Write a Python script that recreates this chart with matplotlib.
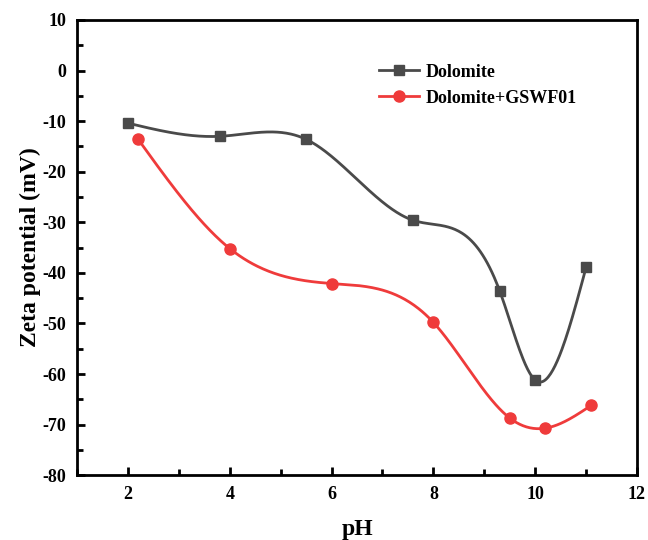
import numpy as np
import matplotlib.pyplot as plt
from matplotlib.ticker import MultipleLocator

plt.rcParams['font.family'] = ['Liberation Serif', 'DejaVu Serif']
plt.rcParams['font.weight'] = 'bold'
plt.rcParams['axes.unicode_minus'] = False

ph_dol = [2.0, 3.8, 5.5, 7.6, 9.3, 10.0, 11.0]
zeta_dol = [-10.4, -13.0, -13.6, -29.6, -43.5, -61.2, -38.9]

ph_gs = [2.2, 4.0, 6.0, 8.0, 9.5, 10.2, 11.1]
zeta_gs = [-13.6, -35.2, -42.1, -49.8, -68.7, -70.7, -66.2]


def natural_spline(x, y, n=400):
    # natural cubic spline through the points
    x = np.asarray(x, float)
    y = np.asarray(y, float)
    k = len(x)
    h = np.diff(x)
    A = np.zeros((k, k))
    b = np.zeros(k)
    A[0, 0] = A[-1, -1] = 1
    for i in range(1, k - 1):
        A[i, i - 1] = h[i - 1]
        A[i, i] = 2 * (h[i - 1] + h[i])
        A[i, i + 1] = h[i]
        b[i] = 6 * ((y[i + 1] - y[i]) / h[i] - (y[i] - y[i - 1]) / h[i - 1])
    M = np.linalg.solve(A, b)
    xs = np.linspace(x[0], x[-1], n)
    idx = np.clip(np.searchsorted(x, xs) - 1, 0, k - 2)
    x0, x1 = x[idx], x[idx + 1]
    hi = h[idx]
    ys = (M[idx] * (x1 - xs) ** 3 / (6 * hi) + M[idx + 1] * (xs - x0) ** 3 / (6 * hi)
          + (y[idx] / hi - M[idx] * hi / 6) * (x1 - xs)
          + (y[idx + 1] / hi - M[idx + 1] * hi / 6) * (xs - x0))
    return xs, ys


fig = plt.figure(figsize=(6.48, 5.4), dpi=100)
ax = fig.add_axes([0.119, 0.12, 0.864, 0.843])

gray = '#4a4a4a'
red = '#ef3b3b'

xs, ys = natural_spline(ph_dol, zeta_dol)
ax.plot(xs, ys, color=gray, lw=2)
ax.plot(ph_dol, zeta_dol, 's', color=gray, ms=7)
ax.plot([], [], '-s', color=gray, lw=2, ms=7, label='Dolomite')

xs, ys = natural_spline(ph_gs, zeta_gs)
ax.plot(xs, ys, color=red, lw=2)
ax.plot(ph_gs, zeta_gs, 'o', color=red, ms=8)
ax.plot([], [], '-o', color=red, lw=2, ms=8, label='Dolomite+GSWF01')

ax.set_xlim(1, 12)
ax.set_ylim(-80, 10)
ax.xaxis.set_major_locator(MultipleLocator(2))
ax.xaxis.set_minor_locator(MultipleLocator(1))
ax.yaxis.set_major_locator(MultipleLocator(10))
ax.yaxis.set_minor_locator(MultipleLocator(5))
ax.tick_params(which='both', direction='in', width=2, labelsize=13, pad=8)
ax.tick_params(which='major', length=6)
ax.tick_params(which='minor', length=4)
for s in ax.spines.values():
    s.set_linewidth(2)

ax.set_xlabel('pH', fontsize=17, fontweight='bold', labelpad=11)
ax.set_ylabel('Zeta potential (mV)', fontsize=17, fontweight='bold', labelpad=1)

ax.legend(loc='upper left', bbox_to_anchor=(0.51, 0.94), frameon=False,
          prop={'size': 13, 'weight': 'bold'}, handlelength=2.2,
          handletextpad=0.4, labelspacing=0.5)

fig.savefig('out.png', dpi=100)
